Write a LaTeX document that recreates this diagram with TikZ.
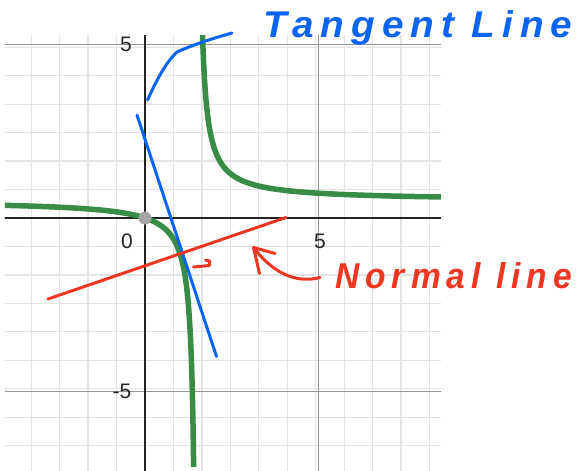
\documentclass[tikz,border=0pt]{standalone}
\usepackage{fontspec}
\setmainfont{Liberation Sans}
\newfontfamily\hand{Liberation Sans}[LetterSpace=18]
\definecolor{dgreen}{RGB}{56,140,70}
\definecolor{hblue}{RGB}{10,100,245}
\definecolor{hred}{RGB}{238,55,35}
\definecolor{gminor}{RGB}{228,228,228}
\definecolor{gmajor}{RGB}{150,150,150}
\definecolor{axcol}{RGB}{35,35,35}
\definecolor{dotgray}{RGB}{165,165,165}
\tikzset{
  ticklabel/.style={font=\fontsize{21}{21}\selectfont, text=black!85, inner sep=0.5pt},
  curvestyle/.style={dgreen, line width=5.5pt},
  bluepen/.style={hblue, line width=3pt, line cap=round, line join=round},
  redpen/.style={hred, line width=3pt, line cap=round, line join=round},
}
\begin{document}
\begin{tikzpicture}[x=1pt,y=-1pt]
\useasboundingbox (0,0) rectangle (576,471);
\fill[white] (0,0) rectangle (576,471);
\begin{scope}[shift={(145,218)},x=34.7pt,y=34.7pt]
  \begin{scope}
    \clip (-4.04,-7.29) rectangle (8.53,5.27);
    \draw[gminor, line width=1.2pt] (-5,-8) grid (9,6);
    \draw[gmajor, line width=1.3pt] (5,-8) -- (5,6) (-5,5) -- (9,5) (-5,-5) -- (9,-5);
    \draw[axcol, line width=1.8pt] (-5,0) -- (9,0) (0,-8) -- (0,6);
    \draw[curvestyle] plot[domain=-4.1:1.4037, samples=300, smooth] (\x,{\x/(2*\x-3)});
    \draw[curvestyle] plot[domain=1.657:8.6, samples=300, smooth] (\x,{\x/(2*\x-3)});
  \end{scope}
  \fill[dotgray] (0,0) circle[radius=6.5pt];
  \node[name=origin, inner sep=0pt] at (0,0) {};
\end{scope}
% tick labels
\node[ticklabel] (lx0) at (127,241) {0};
\node[ticklabel] (lx5) at (320,241) {5};
\node[ticklabel] (ly5) at (126,44) {5};
\node[ticklabel] (lym5) at (122,391) {-5};
% tangent line
\coordinate (tA) at (137,115);
\coordinate (tB) at (216.5,356.5);
\draw[bluepen] (tA) -- (tB);
% callout
\coordinate (cA) at (147.5,100);
\coordinate (cB) at (177,52);
\coordinate (cC) at (232,33);
\draw[bluepen] (cA) .. controls (157,79) and (167,61) .. (cB) .. controls (195,44) and (214,38) .. (cC);
\node[anchor=base west, inner sep=0pt, text=hblue] (tlabel) at (263,37) {\resizebox{309pt}{27pt}{\hand\bfseries\itshape Tangent Line}};
% normal line
\coordinate (nA) at (48,299);
\coordinate (nB) at (286,217.5);
\draw[redpen] (nA) -- (nB);
\coordinate (r1) at (205.5,260);
\coordinate (r2) at (209.5,261);
\coordinate (r3) at (209.5,265.5);
\coordinate (r4) at (193.5,267);
\draw[redpen] (r1) -- (r2) -- (r3) -- (r4);
% arrow
\coordinate (aS) at (320,277.5);
\coordinate (aT) at (253.5,247.5);
\coordinate (b1) at (275,253.5);
\coordinate (b2) at (259.5,273.5);
\draw[redpen] (aS) .. controls (295,284) and (272,272) .. (aT);
\draw[redpen] (b1) -- (aT) -- (b2);
\node[anchor=base west, inner sep=0pt, text=hred] (nlabel) at (335,288) {\resizebox{237pt}{26pt}{\hand\bfseries\itshape Normal line}};
\end{tikzpicture}
\end{document}
